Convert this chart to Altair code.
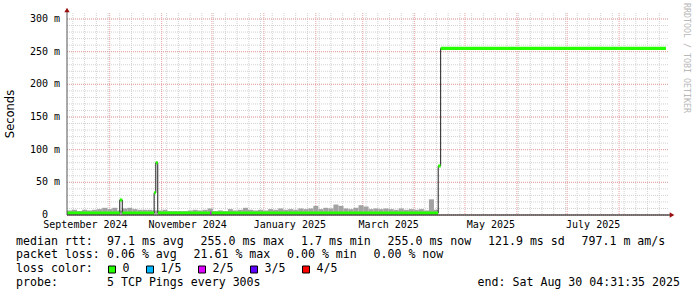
import altair as alt
import pandas as pd

# ---------------- data ----------------
T_START = "2024-09-05T12:00:00"
T_END = "2025-08-30T04:31:35"

# median RTT (ms) as a step series: each value holds until the next time
median_times = ["2024-09-05T12:00:00", "2024-10-07T00:00:00", "2024-10-08T12:00:00",
                "2024-10-27T12:00:00", "2024-10-28T12:00:00", "2024-10-29T16:00:00",
                "2024-11-30T00:00:00", "2024-11-30T18:00:00", "2025-04-15T01:00:00",
                "2025-04-16T12:00:00", "2025-08-28T23:00:00"]
median_ms = [3, 23, 3, 34, 80, 3, 3, 3, 75, 255, 255]
median_loss = ["0", "0", "0", "0", "0", "0", "2/5", "0", "0", "0", "0"]

# smoke (spread of the pings), one value per 3-day bin from T_START
smoke_bin_days = 3
smoke_top_ms = [7, 8, 6, 8, 7, 8, 9, 11, 9, 11,
                7, 10, 11, 9, 8, 8, 8, 7, 7, 8,
                6, 6, 6, 6, 7, 8, 7, 8, 10, 6,
                7, 6, 9, 7, 8, 11, 8, 7, 8, 7,
                9, 8, 10, 8, 9, 8, 10, 9, 10, 14,
                9, 11, 10, 16, 14, 10, 9, 11, 15, 13,
                9, 10, 9, 10, 9, 8, 10, 8, 9, 8,
                9, 7, 24, 8]
smoke_low_ms = 1.7

loss_levels = ["0", "1/5", "2/5", "3/5", "4/5"]
loss_colors = ["#26ff00", "#00b8ff", "#dd00ff", "#5e00ff", "#ff0000"]

y_major = [0, 50, 100, 150, 200, 250, 300]
y_minor = list(range(10, 301, 10))
y_labels = ["0", "50 m", "100 m", "150 m", "200 m", "250 m", "300 m"]

month_starts = ["2024-10-01", "2024-11-01", "2024-12-01", "2025-01-01", "2025-02-01",
                "2025-03-01", "2025-04-01", "2025-05-01", "2025-06-01", "2025-07-01",
                "2025-08-01"]
x_label_times = ["2024-09-16T12:00", "2024-11-16T12:00", "2025-01-16T12:00",
                 "2025-03-16T12:00", "2025-05-16T12:00", "2025-07-16T12:00"]
x_labels = ["September 2024", "November 2024", "January 2025", "March 2025",
            "May 2025", "July 2025"]

legend_rtt = ["median rtt:", "97.1 ms avg", "255.0 ms max", "1.7 ms min",
              "255.0 ms now", "121.9 ms sd", "797.1 m am/s"]
legend_loss = ["packet loss:", "0.06 % avg", "21.61 % max", "0.00 % min", "0.00 % now"]
legend_color_title = "loss color:"
legend_probe = ["probe:", "5 TCP Pings every 300s"]
end_text = "end: Sat Aug 30 04:31:35 2025"
y_title = "Seconds"
watermark = "RRDTOOL / TOBI OETIKER"

# ---------------- layout ----------------
LEFT, TOP = 67, 13
W, H = 601, 202
Y_MAX = 309.2
MONO = "DejaVu Sans Mono"
CW, GLUE = 7.0, 16.5
LINE_Y = [241.5, 255.0, 269.0, 282.7]
BAND = 2.4


def ms(s):
    return int(pd.Timestamp(s).tz_localize("UTC").value // 10**6)


xs = alt.Scale(domain=[ms(T_START), ms(T_END)], nice=False, zero=False)
ys = alt.Scale(domain=[0, Y_MAX], nice=False, zero=False)

weeks = pd.date_range("2024-09-09", "2025-08-25", freq="7D")
week_df = pd.DataFrame({"t": [ms(str(d.date())) for d in weeks]})
month_df = pd.DataFrame({"t": [ms(m) for m in month_starts]})
yminor_df = pd.DataFrame({"v": y_minor})
ymajor_df = pd.DataFrame({"v": y_major, "lab": y_labels})


def vgrid(df, color):
    return alt.Chart(df).mark_rule(color=color, strokeWidth=1, strokeDash=[1, 1]).encode(
        x=alt.X("t:Q", scale=xs, axis=None), y=alt.value(0), y2=alt.value(H))


def hgrid(df, color):
    return alt.Chart(df).mark_rule(color=color, strokeWidth=1, strokeDash=[1, 1]).encode(
        y=alt.Y("v:Q", scale=ys, axis=None), x=alt.value(0), x2=alt.value(W))


# smoke bins
smoke_end = ms(median_times[8])
s0 = [ms(T_START) + i * smoke_bin_days * 86400000 for i in range(len(smoke_top_ms))]
s1 = [min(a + smoke_bin_days * 86400000, smoke_end) for a in s0]
smoke_df = pd.DataFrame({"t0": s0, "t1": s1, "top": smoke_top_ms, "low": smoke_low_ms})

med_df = pd.DataFrame({"t": [ms(t) for t in median_times], "v": median_ms})
band_df = pd.DataFrame({
    "t0": [ms(t) for t in median_times[:-1]],
    "t1": [ms(t) for t in median_times[1:]],
    "lo": [v - BAND for v in median_ms[:-1]],
    "hi": [v + BAND for v in median_ms[:-1]],
    "loss": median_loss[:-1],
})

smoke = alt.Chart(smoke_df).mark_rect(color="#a2a2a2").encode(
    x=alt.X("t0:Q", scale=xs, axis=None), x2="t1:Q",
    y=alt.Y("low:Q", scale=ys, axis=None), y2="top:Q")

med_line = alt.Chart(med_df).mark_line(color="#202020", strokeWidth=1,
                                       interpolate="step-after").encode(
    x=alt.X("t:Q", scale=xs, axis=None), y=alt.Y("v:Q", scale=ys, axis=None))

bands = alt.Chart(band_df).mark_rect().encode(
    x=alt.X("t0:Q", scale=xs, axis=None), x2="t1:Q",
    y=alt.Y("lo:Q", scale=ys, axis=None), y2="hi:Q",
    color=alt.Color("loss:N", scale=alt.Scale(domain=loss_levels, range=loss_colors),
                    legend=None))

one = pd.DataFrame({"a": [0]})
y_axis_line = alt.Chart(one).mark_rule(color="#555555", strokeWidth=1).encode(
    x=alt.value(0), y=alt.value(H), y2=alt.value(-3))
x_axis_line = alt.Chart(one).mark_rule(color="#000000", strokeWidth=1).encode(
    x=alt.value(0), x2=alt.value(W + 3), y=alt.value(H))
up_arrow = alt.Chart(one).mark_point(shape="triangle-up", filled=True, size=28,
                                     color="#9a1010", opacity=1).encode(
    x=alt.value(0), y=alt.value(-3))
right_arrow = alt.Chart(one).mark_point(shape="triangle-right", filled=True, size=28,
                                        color="#9a1010", opacity=1).encode(
    x=alt.value(W + 4), y=alt.value(H))

ylab_m = ymajor_df[ymajor_df["v"] > 0]
ylab_0 = ymajor_df[ymajor_df["v"] == 0]
y_lab = alt.Chart(ylab_m).mark_text(font=MONO, fontSize=10, align="right",
                                    baseline="middle", color="#000000").encode(
    y=alt.Y("v:Q", scale=ys, axis=None), x=alt.value(-7), text="lab:N")
y_lab0 = alt.Chart(ylab_0).mark_text(font=MONO, fontSize=10, align="right",
                                     baseline="middle", color="#000000").encode(
    y=alt.Y("v:Q", scale=ys, axis=None), x=alt.value(-19), text="lab:N")

xlab_df = pd.DataFrame({"t": [ms(t) for t in x_label_times], "lab": x_labels})
x_lab = alt.Chart(xlab_df).mark_text(font=MONO, fontSize=10, align="center",
                                     baseline="middle", color="#000000").encode(
    x=alt.X("t:Q", scale=xs, axis=None), y=alt.value(H + 9.5), text="lab:N")


def text_at(s, px, py, **kw):
    opts = dict(font=MONO, fontSize=11.6, align="left", baseline="middle", color="#000000")
    opts.update(kw)
    return alt.Chart(pd.DataFrame({"s": [s]})).mark_text(**opts).encode(
        x=alt.value(px - LEFT), y=alt.value(py - TOP), text="s:N")


layers = [
    vgrid(week_df, "#d2d2d2"), hgrid(yminor_df, "#d2d2d2"),
    vgrid(month_df, "#e8a0a0"), hgrid(ymajor_df, "#e8a0a0"),
    smoke, med_line, bands,
    x_axis_line, y_axis_line, up_arrow, right_arrow,
    y_lab, y_lab0, x_lab,
]

layers.append(text_at(y_title, 11, 114, font="DejaVu Sans", fontSize=11.5,
                      align="center", angle=270))
layers.append(text_at(watermark, 686, 3, fontSize=8.3, color="#b8b8b8", angle=90))


def seg_line(items, py):
    out = []
    x = 16
    for k, s in enumerate(items):
        out.append(text_at(s, x, py))
        if k == 0:
            x = 107
        else:
            x = x + len(s) * CW + GLUE
    return out


layers += seg_line(legend_rtt, LINE_Y[0])
layers += seg_line(legend_loss, LINE_Y[1])
layers += seg_line(legend_probe, LINE_Y[3])
layers.append(text_at(end_text, 680, LINE_Y[3], align="right"))

# loss color legend row
layers.append(text_at(legend_color_title, 16, LINE_Y[2]))
sx = 108
for lev, col in zip(loss_levels, loss_colors):
    layers.append(alt.Chart(one).mark_square(size=49, filled=True, color=col,
                                             stroke="#000000", strokeWidth=1, opacity=1).encode(
        x=alt.value(sx + 4 - LEFT), y=alt.value(LINE_Y[2] + 0.5 - TOP)))
    lx = sx + 14.5
    layers.append(text_at(lev, lx, LINE_Y[2]))
    sx = lx + len(lev) * CW + GLUE

chart = alt.layer(*layers).properties(
    width=W, height=H,
    padding={"left": LEFT, "top": TOP, "right": 697 - LEFT - W, "bottom": 297 - TOP - H},
    autosize=alt.AutoSizeParams(type="none"),
    background="#ffffff",
).configure_view(stroke=None)

chart.save("out.html", embed_options={"renderer": "svg", "actions": False})
